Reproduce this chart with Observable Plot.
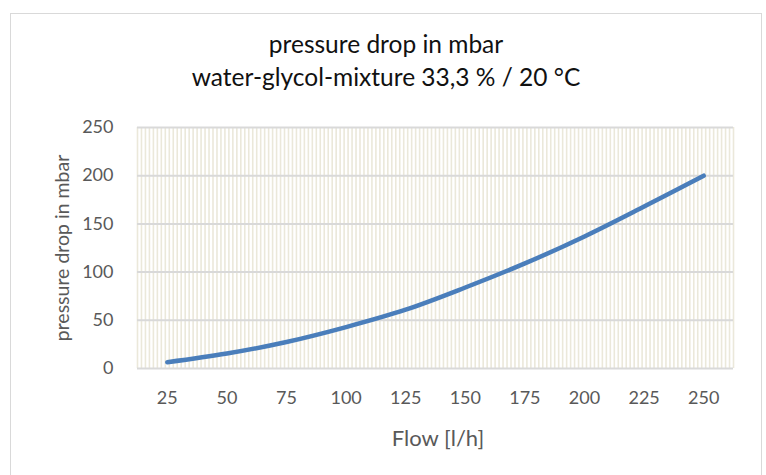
<!DOCTYPE html>
<html><head><meta charset="utf-8">
<script src="https://cdn.jsdelivr.net/npm/d3@7"></script>
<script src="https://cdn.jsdelivr.net/npm/@observablehq/plot@0.6"></script>
<style>
body{margin:0;background:#fff;font-family:Lato, "Open Sans", sans-serif}
#wrap{position:relative;width:766px;height:475px;overflow:hidden;background:#fff}
#frame{position:absolute;left:10px;top:13px;width:750px;height:480px;border:1px solid #d9d9d9}
.t{position:absolute;left:10px;width:752px;text-align:center;font-size:24.5px;color:#111;line-height:1}
#chart{position:absolute;left:0;top:110px}
#ylab{position:absolute;left:62px;top:248px;transform:translate(-50%,-50%) rotate(-90deg);white-space:nowrap;font-size:19.5px;color:#595959;line-height:1}
#xlab{position:absolute;left:438px;top:438px;transform:translate(-50%,-50%);white-space:nowrap;font-size:22px;color:#595959;line-height:1}
</style></head>
<body>
<div id="wrap">
  <div id="frame"></div>
  <div class="t" id="t1" style="top:32px">pressure drop in mbar</div>
  <div class="t" id="t2" style="top:65px">water-glycol-mixture 33,3 % / 20 °C</div>
  <div id="chart"></div>
  <div id="ylab">pressure drop in mbar</div>
  <div id="xlab">Flow [l/h]</div>
</div>
<script>
const flow = [25, 50, 75, 100, 125, 150, 175, 200, 225, 250];
const pressure = [6.5, 15.5, 27.5, 43, 61, 84, 109, 137, 168, 200];
const yTicks = [0, 50, 100, 150, 200, 250];

const data = flow.map((f, i) => ({flow: f, p: pressure[i]}));
const minorX = d3.range(0, 151).map(i => 12.5 + i * 250 / 150);

const chart = Plot.plot({
  width: 766,
  height: 360,
  marginLeft: 137,
  marginRight: 33,
  marginTop: 17,
  marginBottom: 102,
  style: {fontSize: "18px", color: "#595959", fontFamily: "Lato, 'Open Sans', sans-serif", background: "transparent"},
  x: {type: "linear", domain: [12.5, 262.5]},
  y: {domain: [0, 250]},
  marks: [
    Plot.ruleX(minorX, {stroke: "#ebe8da", strokeWidth: 1.6}),
    Plot.ruleY(yTicks, {stroke: "#d9d9d9", strokeWidth: 2}),
    Plot.axisX({ticks: flow, tickSize: 0, tickPadding: 23, label: null, tickFormat: d => String(d)}),
    Plot.axisY({ticks: yTicks, tickSize: 0, tickPadding: 24, label: null}),
    Plot.line(data, {x: "flow", y: "p", stroke: "#4a7ebb", strokeWidth: 4.5, curve: "catmull-rom", strokeLinecap: "round", strokeLinejoin: "round"})
  ]
});
document.getElementById("chart").appendChild(chart);
</script>
</body></html>
